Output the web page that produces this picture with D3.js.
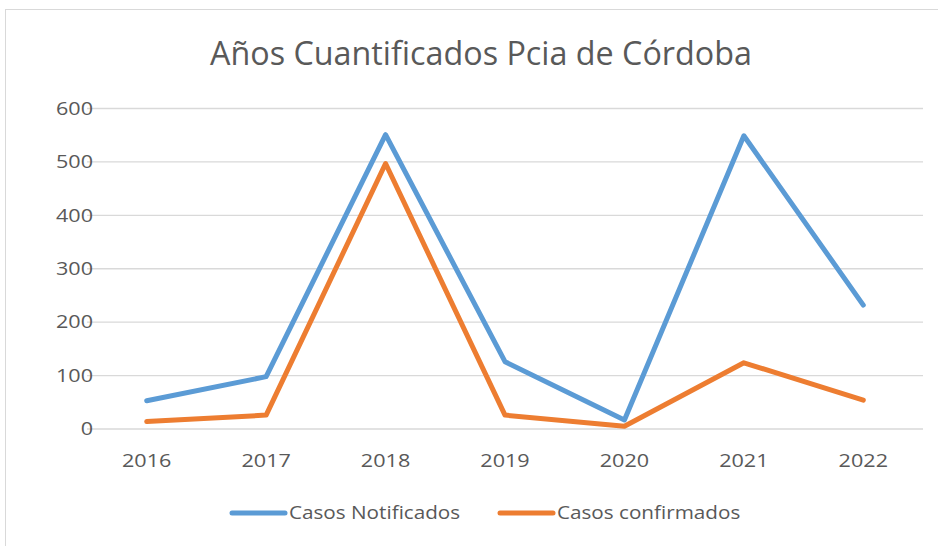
<!DOCTYPE html>
<html>
<head>
<meta charset="utf-8">
<script src="https://cdn.jsdelivr.net/npm/d3@7"></script>
<style>
  body { margin: 0; background: #fff; }
  text { font-family: "Open Sans", sans-serif; fill: #595959; }
</style>
</head>
<body>
<svg id="chart" width="938" height="546"></svg>
<script>
const years = ['2016', '2017', '2018', '2019', '2020', '2021', '2022'];
const notificados = [53, 98, 551, 126, 17, 549, 232];
const confirmados = [14, 26, 497, 26, 5, 124, 54];
const yTicks = [0, 100, 200, 300, 400, 500, 600];

const series = [
  { name: 'Casos Notificados', values: notificados, color: '#5B9BD5' },
  { name: 'Casos confirmados', values: confirmados, color: '#ED7D31' }
];

// the source picture is stretched sideways, so labels get a horizontal scale
const sx = 1.2;

const svg = d3.select('#chart');

// chart area border
svg.append('rect')
  .attr('x', 5.5).attr('y', 9.5)
  .attr('width', 940).attr('height', 545)
  .attr('fill', 'none').attr('stroke', '#D9D9D9');

svg.append('text')
  .attr('x', 481).attr('y', 65)
  .attr('text-anchor', 'middle')
  .attr('font-size', 32.3)
  .text('Años Cuantificados Pcia de Córdoba');

const x = d3.scaleBand().domain(years).range([87, 923]);
const y = d3.scaleLinear().domain([0, 600]).range([429, 108.5]);

// gridlines
svg.append('g')
  .selectAll('line')
  .data(yTicks)
  .join('line')
  .attr('x1', 87).attr('x2', 923)
  .attr('y1', d => y(d)).attr('y2', d => y(d))
  .attr('stroke', '#D9D9D9').attr('stroke-width', 1.3);

// y labels
svg.append('g')
  .selectAll('text')
  .data(yTicks)
  .join('text')
  .attr('transform', d => `translate(93,${y(d)}) scale(${sx},1)`)
  .attr('dy', '0.35em')
  .attr('text-anchor', 'end')
  .attr('font-size', 18)
  .text(d => d);

// x labels
svg.append('g')
  .selectAll('text')
  .data(years)
  .join('text')
  .attr('transform', d => `translate(${x(d) + x.bandwidth() / 2},461) scale(${sx},1)`)
  .attr('dy', '0.35em')
  .attr('text-anchor', 'middle')
  .attr('font-size', 18)
  .text(d => d);

const line = d3.line()
  .x((d, i) => x(years[i]) + x.bandwidth() / 2)
  .y(d => y(d));

svg.append('g')
  .selectAll('path')
  .data(series)
  .join('path')
  .attr('d', d => line(d.values))
  .attr('fill', 'none')
  .attr('stroke', d => d.color)
  .attr('stroke-width', 5)
  .attr('stroke-linejoin', 'round')
  .attr('stroke-linecap', 'round');

// legend
const legendX = [232, 500];
const lg = svg.append('g')
  .selectAll('g')
  .data(series)
  .join('g')
  .attr('transform', (d, i) => `translate(${legendX[i]},513)`);
lg.append('line')
  .attr('x1', 0).attr('x2', 53)
  .attr('stroke', d => d.color)
  .attr('stroke-width', 5)
  .attr('stroke-linecap', 'round');
lg.append('text')
  .attr('transform', 'translate(57,0) scale(1.15,1)')
  .attr('dy', '0.35em')
  .attr('font-size', 18)
  .text(d => d.name);
</script>
</body>
</html>
